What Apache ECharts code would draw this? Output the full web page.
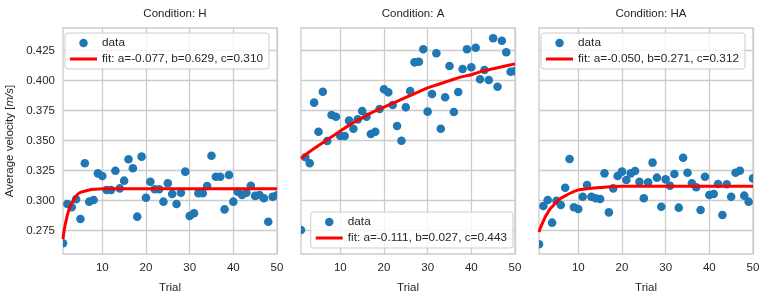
<!DOCTYPE html>
<html>
<head>
<meta charset="utf-8">
<script src="https://cdn.jsdelivr.net/npm/echarts@6/dist/echarts.min.js"></script>
<style>
  html, body { margin: 0; padding: 0; background: #fff; }
  #chart { width: 765px; height: 296px; }
</style>
</head>
<body>
<div id="chart"></div>
<script>
// trials 1..50
const trials = [1,2,3,4,5,6,7,8,9,10,11,12,13,14,15,16,17,18,19,20,21,22,23,24,25,26,27,28,29,30,31,32,33,34,35,36,37,38,39,40,41,42,43,44,45,46,47,48,49,50];

// average velocity per trial
const velH = [0.2645,0.2972,0.2945,0.3012,0.2847,0.3312,0.2992,0.3006,0.3228,0.3206,
  0.3089,0.3089,0.3250,0.3103,0.3167,0.3345,0.3270,0.2867,0.3367,0.3025,
  0.3158,0.3095,0.3095,0.2992,0.3145,0.3056,0.2972,0.3067,0.3242,0.2873,
  0.2895,0.3062,0.3062,0.3122,0.3375,0.3200,0.3200,0.2928,0.3214,0.2992,
  0.3075,0.3047,0.3067,0.3125,0.3040,0.3047,0.3020,0.2825,0.3033,0.3045];
const velA = [0.2756,0.3362,0.3312,0.3817,0.3575,0.3908,0.3497,0.3714,0.3700,0.3539,
  0.3539,0.3667,0.3600,0.3678,0.3747,0.3700,0.3556,0.3575,0.3764,0.3928,
  0.3903,0.3797,0.3622,0.3500,0.3778,0.3914,0.4153,0.4158,0.4262,0.3742,
  0.3889,0.4228,0.3600,0.3862,0.4122,0.3739,0.3906,0.4098,0.4262,0.4112,
  0.4275,0.4012,0.4089,0.4006,0.4353,0.3950,0.4333,0.4237,0.4075,0.4080];
const velHA = [0.2637,0.2956,0.3006,0.2817,0.3000,0.2964,0.3108,0.3348,0.2945,0.2931,
  0.3033,0.3131,0.3033,0.3020,0.3014,0.3228,0.2903,0.3103,0.3206,0.3242,
  0.3172,0.3228,0.3247,0.3158,0.3020,0.3153,0.3317,0.3192,0.2950,0.3178,
  0.3125,0.3222,0.2942,0.3358,0.3233,0.3145,0.3112,0.2922,0.3200,0.3047,
  0.3056,0.3139,0.2881,0.3137,0.3033,0.3233,0.3250,0.3042,0.2992,0.3186];

// fitted curves
const fitXH = [1,1.25,1.5,1.75,2,2.5,3,3.5,4,5,6,7,8,10,12,50];
const fitH = [0.268,0.275,0.280,0.284,0.288,0.294,0.298,0.301,0.304,0.307,0.308,0.309,0.3095,0.310,0.310,0.310];
const fitXA = [1,3,5,7.5,10,12.5,15,17.5,20,22.5,25,27.5,30,32.5,35,37.5,40,42.5,45,47.5,50];
const fitA = [0.335,0.341,0.346,0.352,0.358,0.364,0.369,0.374,0.378,0.382,0.386,0.390,0.394,0.397,0.400,0.403,0.405,0.408,0.410,0.412,0.414];
const fitXHA = [1,1.5,2,2.5,3,3.5,4,5,6,7,8,10,12,15,20,50];
const fitHA = [0.274,0.279,0.283,0.287,0.290,0.293,0.295,0.299,0.302,0.304,0.306,0.309,0.310,0.311,0.312,0.312];

const titles = ['Condition: H', 'Condition: A', 'Condition: HA'];
const fitNames = ['fit: a=-0.077, b=0.629, c=0.310', 'fit: a=-0.111, b=0.027, c=0.443', 'fit: a=-0.050, b=0.271, c=0.312'];
const xTicks = [10, 20, 30, 40, 50];
const yTicks = [0.275, 0.300, 0.325, 0.350, 0.375, 0.400, 0.425];

const FONT = '"Liberation Sans", Arial, sans-serif';
const TXT = '#262626';
const GRIDC = '#cccccc';
const BLUE = '#1f77b4';

let velList = [velH, velA, velHA];
let fitXList = [fitXH, fitXA, fitXHA];
let fitYList = [fitH, fitA, fitHA];
let lefts = [63, 301, 539];

let grids = [], xAxes = [], yAxes = [], series = [], titleArr = [], legends = [];

// dots as a custom series so the edge markers get cut by the plot frame like in matplotlib
function renderDot(params, api) {
  let p = api.coord([api.value(0), api.value(1)]);
  return {
    type: 'circle',
    shape: { cx: p[0], cy: p[1], r: 4.3 },
    style: { fill: BLUE }
  };
}

lefts.forEach((left, i) => {
  grids.push({
    left: left, top: 28, width: 214, height: 226,
    show: true, borderColor: GRIDC, borderWidth: 1.3, backgroundColor: '#fff',
    outerBoundsMode: 'none'
  });
  titleArr.push({
    text: titles[i], left: left + 107, top: 3, textAlign: 'center',
    textStyle: { fontFamily: FONT, fontSize: 11.5, fontWeight: 'normal', color: TXT }
  });
  xAxes.push({
    type: 'value', gridIndex: i, min: 1, max: 50,
    name: 'Trial', nameLocation: 'middle', nameGap: 28,
    nameTextStyle: { fontFamily: FONT, fontSize: 11.5, color: TXT },
    axisLine: { show: false },
    axisTick: { show: false, customValues: xTicks },
    axisLabel: { customValues: xTicks, margin: 8, fontFamily: FONT, fontSize: 11.5, color: TXT },
    splitLine: { show: true, lineStyle: { color: GRIDC, width: 1.3 } }
  });
  yAxes.push({
    type: 'value', gridIndex: i, min: 0.2556, max: 0.4439,
    name: i === 0 ? '{n|Average velocity [}{i|m/s}{n|]}' : '',
    nameLocation: 'middle', nameGap: 47,
    nameTextStyle: {
      rich: {
        n: { fontFamily: FONT, fontSize: 11.5, color: TXT },
        i: { fontFamily: FONT, fontSize: 11.5, color: TXT, fontStyle: 'italic' }
      }
    },
    axisLine: { show: false },
    axisTick: { show: false, customValues: yTicks },
    axisLabel: {
      show: i === 0, customValues: yTicks, margin: 8,
      fontFamily: FONT, fontSize: 11.5, color: TXT,
      formatter: v => v.toFixed(3)
    },
    splitLine: { show: true, lineStyle: { color: GRIDC, width: 1.3 } }
  });

  series.push({
    name: 'data', type: 'custom', xAxisIndex: i, yAxisIndex: i,
    renderItem: renderDot, clip: true,
    encode: { x: 0, y: 1 },
    itemStyle: { color: BLUE },
    data: trials.map((t, k) => [t, velList[i][k]]),
    z: 2
  });
  series.push({
    name: fitNames[i], type: 'line', xAxisIndex: i, yAxisIndex: i,
    showSymbol: false, symbol: 'none', smooth: 0.3,
    lineStyle: { color: '#ff0000', width: 3 },
    itemStyle: { color: '#ff0000' },
    data: fitXList[i].map((x, k) => [x, fitYList[i][k]]),
    z: 3
  });

  let lg = {
    orient: 'vertical',
    data: [
      { name: 'data', icon: 'circle', itemStyle: { color: BLUE } },
      { name: fitNames[i], icon: 'path://M0,0 L27,0 L27,3 L0,3 Z', itemStyle: { color: '#ff0000' } }
    ],
    itemWidth: 27, itemHeight: 8.5, itemGap: 4,
    padding: [4, 6, 4, 5],
    backgroundColor: 'rgba(255,255,255,0.8)',
    borderColor: GRIDC, borderWidth: 1, borderRadius: 3,
    textStyle: { fontFamily: FONT, fontSize: 11.8, color: TXT },
    selectedMode: false
  };
  if (i === 1) {
    lg.right = 765 - 513; lg.bottom = 296 - 248;
  } else {
    lg.left = left + 2; lg.top = 33;
  }
  legends.push(lg);
});

let chart = echarts.init(document.getElementById('chart'), null, { renderer: 'canvas' });
chart.setOption({
  animation: false,
  backgroundColor: '#fff',
  title: titleArr,
  grid: grids,
  xAxis: xAxes,
  yAxis: yAxes,
  legend: legends,
  series: series
});
</script>
</body>
</html>
